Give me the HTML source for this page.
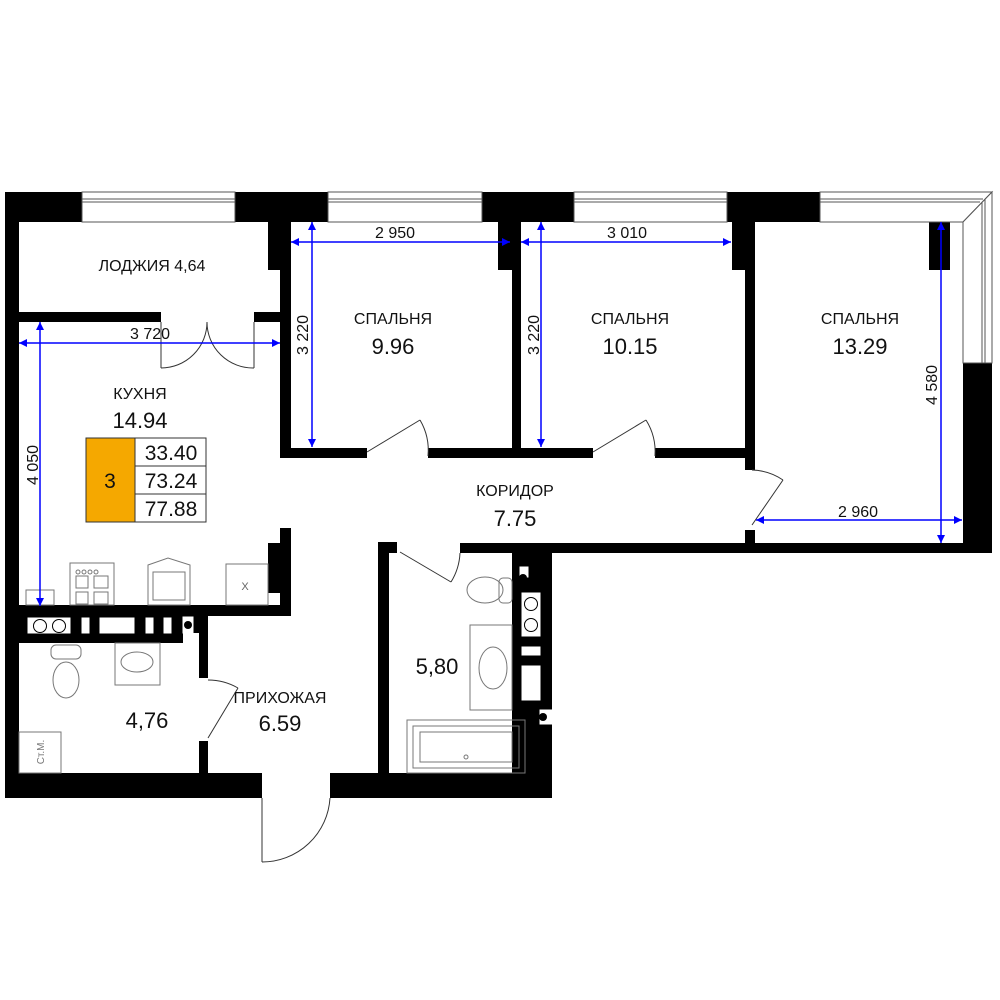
<!DOCTYPE html>
<html><head><meta charset="utf-8"><style>
html,body{margin:0;padding:0;background:#fff;}
svg{display:block;}
text{font-family:"Liberation Sans",sans-serif;fill:#111;}
</style></head><body>
<svg width="1000" height="1000" viewBox="0 0 1000 1000" xmlns="http://www.w3.org/2000/svg">
<defs>
<marker id="ar" viewBox="0 0 10 10" refX="10" refY="5" markerWidth="12" markerHeight="8" orient="auto-start-reverse" markerUnits="userSpaceOnUse"><path d="M0,0 L10,5 L0,10 z" fill="#0000ff"/></marker>
</defs>
<g fill="#000">
<rect x="5" y="192" width="77" height="30"/>
<rect x="235" y="192" width="93" height="30"/>
<rect x="482" y="192" width="92" height="30"/>
<rect x="727" y="192" width="93" height="30"/>
<rect x="5" y="192" width="14" height="606"/>
<rect x="268" y="222" width="23" height="48"/>
<rect x="280" y="222" width="11" height="236"/>
<rect x="19" y="312" width="142" height="10"/>
<rect x="254" y="312" width="27" height="10"/>
<rect x="280" y="448" width="87" height="10"/>
<rect x="428" y="448" width="93" height="10"/>
<rect x="498" y="222" width="14" height="48"/>
<rect x="512" y="222" width="9" height="236"/>
<rect x="512" y="448" width="81" height="10"/>
<rect x="655" y="448" width="100" height="10"/>
<rect x="732" y="222" width="13" height="48"/>
<rect x="745" y="222" width="10" height="248"/>
<rect x="745" y="530" width="10" height="15"/>
<rect x="929" y="220" width="21" height="50"/>
<rect x="963" y="363" width="29" height="190"/>
<rect x="460" y="543" width="532" height="10"/>
<rect x="378" y="542" width="19" height="11"/>
<rect x="378" y="542" width="11" height="240"/>
<rect x="512" y="553" width="40" height="225"/>
<rect x="280" y="528" width="11" height="88"/>
<rect x="268" y="543" width="12" height="50"/>
<rect x="19" y="605" width="272" height="11"/>
<rect x="19" y="605" width="164" height="38"/>
<rect x="183" y="605" width="16" height="28"/>
<rect x="199" y="605" width="9" height="73"/>
<rect x="199" y="741" width="9" height="35"/>
<rect x="5" y="773" width="257" height="25"/>
<rect x="330" y="773" width="222" height="25"/>
</g>
<g fill="#fff" stroke="#000" stroke-width="1">
<rect x="27" y="617" width="44" height="17"/>
<rect x="81" y="617" width="9" height="17"/>
<rect x="99" y="617" width="36" height="17"/>
<rect x="145" y="617" width="9" height="17"/>
<rect x="163" y="617" width="9" height="17"/>
<rect x="183" y="617" width="10" height="16" stroke="#fff"/>
<circle cx="40" cy="626" r="6.5"/><circle cx="59" cy="626" r="6.5"/>
</g>
<circle cx="188" cy="625" r="4" fill="#000"/>
<g fill="#fff" stroke="#000" stroke-width="1">
<rect x="520" y="567" width="8" height="10" stroke="#fff"/>
<rect x="521" y="592" width="20" height="45"/>
<circle cx="531" cy="604" r="6.5"/><circle cx="531" cy="625" r="6.5"/>
<rect x="521" y="646" width="20" height="10"/>
<rect x="521" y="665" width="20" height="36"/>
<rect x="540" y="710" width="12" height="14" stroke="#fff"/>
</g>
<circle cx="523" cy="578" r="4" fill="#000"/>
<circle cx="543" cy="717" r="4" fill="#000"/>
<g fill="#fff" stroke="#555" stroke-width="1">
<rect x="82" y="192" width="153" height="30"/>
<line x1="82" y1="199" x2="235" y2="199"/><line x1="82" y1="202" x2="235" y2="202"/>
<rect x="328" y="192" width="154" height="30"/>
<line x1="328" y1="199" x2="482" y2="199"/><line x1="328" y1="202" x2="482" y2="202"/>
<rect x="574" y="192" width="153" height="30"/>
<line x1="574" y1="199" x2="727" y2="199"/><line x1="574" y1="202" x2="727" y2="202"/>
<path d="M820,192 L992,192 L963,222 L820,222 Z"/>
<line x1="820" y1="199" x2="983" y2="199"/><line x1="820" y1="202" x2="980" y2="202"/>
<path d="M992,192 L992,363 L963,363 L963,222 Z"/>
<line x1="982" y1="202" x2="982" y2="363"/><line x1="985" y1="199" x2="985" y2="363"/>
</g>
<g fill="none" stroke="#333" stroke-width="1">
<line x1="161" y1="322" x2="161" y2="368"/><path d="M161,368 A46,46 0 0 0 207,322"/>
<line x1="254" y1="322" x2="254" y2="368"/><path d="M254,368 A46,46 0 0 1 207,322"/>
<line x1="367" y1="452" x2="420" y2="420"/><path d="M420,420 A60,60 0 0 1 428,456"/>
<line x1="593" y1="452" x2="646" y2="420"/><path d="M646,420 A60,60 0 0 1 655,456"/>
<line x1="752" y1="525" x2="783" y2="480"/><path d="M783,480 A58,58 0 0 0 752,470"/>
<line x1="400" y1="552" x2="451" y2="582"/><path d="M451,582 A60,60 0 0 0 460,553"/>
<line x1="208" y1="738" x2="238" y2="688"/><path d="M238,688 A60,60 0 0 0 208,680"/>
<line x1="262" y1="798" x2="262" y2="862"/><path d="M262,862 A68,68 0 0 0 330,798"/>
</g>
<g fill="none" stroke="#777" stroke-width="1">
<rect x="70" y="563" width="44" height="42"/>
<circle cx="78" cy="572" r="2"/><circle cx="84" cy="572" r="2"/><circle cx="90" cy="572" r="2"/><circle cx="96" cy="572" r="2"/>
<rect x="76" y="576" width="12" height="12"/><rect x="94" y="576" width="14" height="12"/>
<rect x="76" y="592" width="12" height="12"/><rect x="94" y="592" width="14" height="12"/>
<path d="M148,605 L148,565 L168,558 L190,565 L190,605 Z"/>
<rect x="153" y="572" width="32" height="28"/>
<rect x="226" y="564" width="42" height="41"/>
<rect x="26" y="590" width="28" height="15"/>
<rect x="115" y="643" width="45" height="42"/>
<ellipse cx="137" cy="662" rx="16" ry="10"/>
<ellipse cx="66" cy="680" rx="13" ry="18"/>
<rect x="51" y="645" width="30" height="14" rx="5"/>
<rect x="19" y="732" width="42" height="41"/>
<rect x="470" y="625" width="42" height="85"/>
<ellipse cx="493" cy="668" rx="14" ry="21"/>
<ellipse cx="485" cy="590" rx="18" ry="13"/>
<rect x="499" y="578" width="13" height="25" rx="4"/>
<rect x="407" y="720" width="118" height="53"/>
<rect x="413" y="726" width="106" height="42"/>
<rect x="420" y="732" width="92" height="30"/>
<circle cx="466" cy="757" r="2"/>
</g>
<text x="245" y="590" font-size="11" text-anchor="middle" style="fill:#666">X</text>
<text transform="translate(44,752) rotate(-90)" font-size="10" text-anchor="middle" style="fill:#777">Ст.М.</text>
<g stroke="#0000ff" stroke-width="1.5" fill="none">
<line x1="291" y1="242" x2="510" y2="242" marker-start="url(#ar)" marker-end="url(#ar)"/>
<line x1="312" y1="222" x2="312" y2="447" marker-start="url(#ar)" marker-end="url(#ar)"/>
<line x1="521" y1="242" x2="731" y2="242" marker-start="url(#ar)" marker-end="url(#ar)"/>
<line x1="541" y1="222" x2="541" y2="447" marker-start="url(#ar)" marker-end="url(#ar)"/>
<line x1="941" y1="222" x2="941" y2="543" marker-start="url(#ar)" marker-end="url(#ar)"/>
<line x1="756" y1="520" x2="962" y2="520" marker-start="url(#ar)" marker-end="url(#ar)"/>
<line x1="19" y1="343" x2="280" y2="343" marker-start="url(#ar)" marker-end="url(#ar)"/>
<line x1="40" y1="322" x2="40" y2="606" marker-start="url(#ar)" marker-end="url(#ar)"/>
</g>
<rect x="86" y="438" width="49" height="84" fill="#f5a800" stroke="#333"/>
<rect x="135" y="438" width="71" height="28" fill="#fff" stroke="#333"/>
<rect x="135" y="466" width="71" height="28" fill="#fff" stroke="#333"/>
<rect x="135" y="494" width="71" height="28" fill="#fff" stroke="#333"/>
<g font-size="21" text-anchor="middle">
<text x="110" y="488">3</text>
<text x="171" y="460">33.40</text>
<text x="171" y="488">73.24</text>
<text x="171" y="516">77.88</text>
</g>
<g font-size="16" text-anchor="middle">
<text x="152" y="271">ЛОДЖИЯ 4,64</text>
<text x="150" y="339">3 720</text>
<text x="140" y="399">КУХНЯ</text>
<text x="395" y="238">2 950</text>
<text x="627" y="238">3 010</text>
<text x="858" y="517">2 960</text>
<text x="393" y="324">СПАЛЬНЯ</text>
<text x="630" y="324">СПАЛЬНЯ</text>
<text x="860" y="324">СПАЛЬНЯ</text>
<text x="515" y="496">КОРИДОР</text>
<text x="280" y="703">ПРИХОЖАЯ</text>
<text transform="translate(308,335) rotate(-90)">3 220</text>
<text transform="translate(539,335) rotate(-90)">3 220</text>
<text transform="translate(937,385) rotate(-90)">4 580</text>
<text transform="translate(38,465) rotate(-90)">4 050</text>
</g>
<g font-size="22" text-anchor="middle">
<text x="140" y="428">14.94</text>
<text x="393" y="354">9.96</text>
<text x="630" y="354">10.15</text>
<text x="860" y="354">13.29</text>
<text x="515" y="526">7.75</text>
<text x="280" y="731">6.59</text>
<text x="147" y="728">4,76</text>
<text x="437" y="674">5,80</text>
</g>
</svg>
</body></html>
